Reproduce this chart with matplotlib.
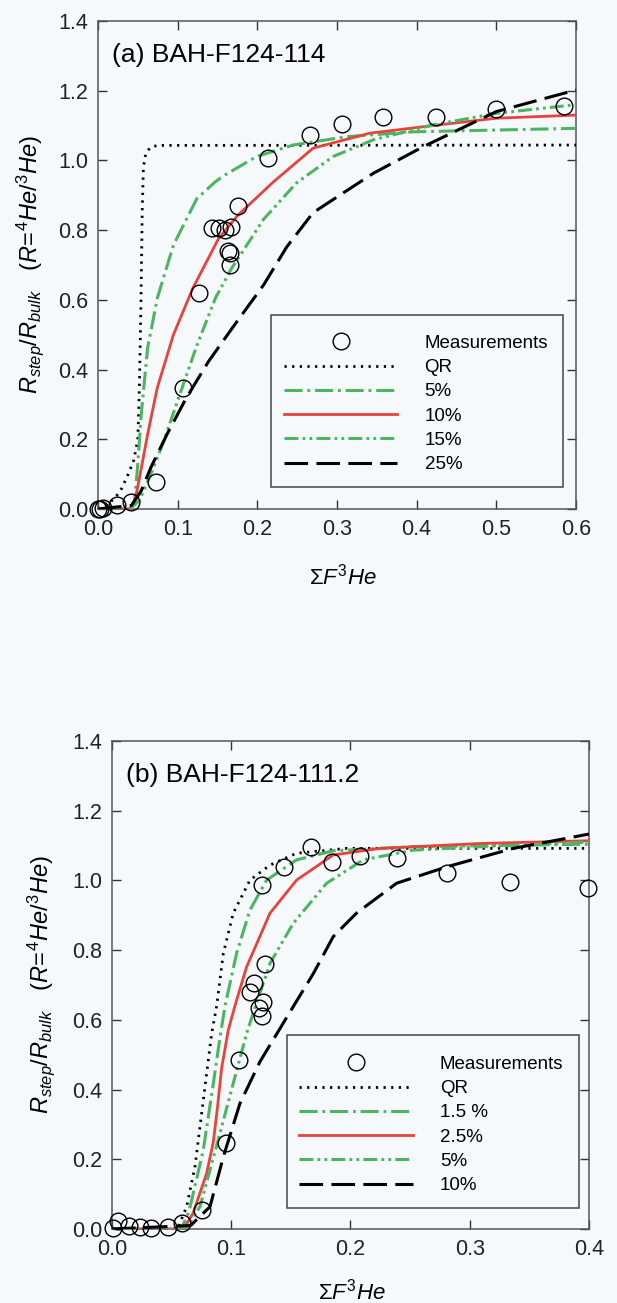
import matplotlib
matplotlib.use("Agg")
import matplotlib.pyplot as plt
from matplotlib.patches import Rectangle

plt.rcParams['font.family'] = ['Liberation Sans', 'DejaVu Sans']
plt.rcParams['mathtext.fontset'] = 'custom'
plt.rcParams['mathtext.it'] = 'Liberation Sans:italic'
plt.rcParams['mathtext.rm'] = 'Liberation Sans'
plt.rcParams['lines.scale_dashes'] = False

# ---- panel (a) BAH-F124-114 ----
a_meas_x = [0.0, 0.003, 0.006, 0.024, 0.042, 0.0725, 0.1069, 0.1263, 0.1433, 0.1514, 0.1595,
            0.1676, 0.1636, 0.1656, 0.1656, 0.1757, 0.214, 0.266, 0.306, 0.358, 0.424, 0.500, 0.585]
a_meas_y = [0.0, 0.0, 0.003, 0.01, 0.019, 0.076, 0.348, 0.619, 0.805, 0.805, 0.80,
            0.81, 0.74, 0.733, 0.70, 0.870, 1.006, 1.073, 1.104, 1.124, 1.125, 1.147, 1.156]

a_qr_x = [0.0, 0.01, 0.022, 0.03, 0.038, 0.045, 0.050, 0.052, 0.054, 0.0555, 0.057, 0.060, 0.066, 0.075, 0.6]
a_qr_y = [0.0, 0.01, 0.033, 0.06, 0.10, 0.14, 0.2, 0.35, 0.6, 0.85, 0.98, 1.02, 1.038, 1.043, 1.044]

a_5_x = [0.0, 0.04, 0.046, 0.050, 0.0543, 0.0623, 0.0745, 0.0947, 0.124, 0.147, 0.157, 0.199, 0.245, 0.312, 0.396, 0.6]
a_5_y = [0.0, 0.0, 0.024, 0.129, 0.271, 0.462, 0.605, 0.757, 0.89, 0.938, 0.955, 1.011, 1.044, 1.068, 1.082, 1.092]

a_10_x = [0.0, 0.04, 0.046, 0.0522, 0.0623, 0.0745, 0.0947, 0.119, 0.1514, 0.1757, 0.22, 0.270, 0.341, 0.417, 0.5, 0.6]
a_10_y = [0.0, 0.0, 0.019, 0.09, 0.214, 0.348, 0.5, 0.633, 0.776, 0.843, 0.938, 1.035, 1.078, 1.099, 1.121, 1.130]

a_15_x = [0.0, 0.04, 0.052, 0.0664, 0.0826, 0.1028, 0.123, 0.1474, 0.1676, 0.192, 0.2075, 0.249, 0.295, 0.3456, 0.421, 0.5, 0.6]
a_15_y = [0.0, 0.0, 0.024, 0.10, 0.195, 0.329, 0.462, 0.605, 0.69, 0.775, 0.83, 0.935, 1.011, 1.059, 1.102, 1.135, 1.16]

a_25_x = [0.0, 0.042, 0.0543, 0.0664, 0.0866, 0.111, 0.139, 0.1717, 0.208, 0.237, 0.270, 0.3456, 0.408, 0.5, 0.6]
a_25_y = [0.0, 0.01, 0.052, 0.119, 0.214, 0.319, 0.424, 0.529, 0.643, 0.752, 0.85, 0.963, 1.039, 1.14, 1.202]

a_labels = ['Measurements', 'QR', '5%', '10%', '15%', '25%']

# ---- panel (b) BAH-F124-111.2 ----
b_meas_x = [0.0011, 0.0047, 0.0145, 0.0235, 0.0325, 0.0472, 0.0584, 0.0751, 0.0956, 0.1068, 0.1236, 0.1255,
            0.1264, 0.1157, 0.1191, 0.1283, 0.1255, 0.1443, 0.1666, 0.1847, 0.2080, 0.2387, 0.2807, 0.3338, 0.3994]
b_meas_y = [0.002, 0.024, 0.009, 0.007, 0.002, 0.007, 0.018, 0.0545, 0.248, 0.485, 0.633, 0.611,
            0.652, 0.681, 0.705, 0.759, 0.987, 1.039, 1.095, 1.054, 1.07, 1.063, 1.020, 0.996, 0.977]

b_qr_x = [0.0, 0.055, 0.0626, 0.0696, 0.0766, 0.0836, 0.0878, 0.0934, 0.1017, 0.1157, 0.1325, 0.1548, 0.1968, 0.4]
b_qr_y = [0.0, 0.0, 0.064, 0.179, 0.37, 0.561, 0.64, 0.791, 0.906, 1.001, 1.044, 1.078, 1.092, 1.092]

b_15_x = [0.0, 0.058, 0.0646, 0.0766, 0.085, 0.0906, 0.0948, 0.1045, 0.1157, 0.1297, 0.1548, 0.1855, 0.2526, 0.4]
b_15_y = [0.0, 0.0, 0.05, 0.227, 0.418, 0.55, 0.64, 0.791, 0.915, 1.001, 1.059, 1.085, 1.097, 1.104]

b_25_x = [0.0, 0.06, 0.068, 0.0794, 0.085, 0.0885, 0.0919, 0.0975, 0.1031, 0.1129, 0.1325, 0.1548, 0.1855, 0.2247, 0.3086, 0.4]
b_25_y = [0.0, 0.0, 0.045, 0.16, 0.25, 0.35, 0.46, 0.57, 0.64, 0.752, 0.906, 1.001, 1.073, 1.092, 1.106, 1.114]

b_5_x = [0.0, 0.062, 0.0738, 0.0906, 0.1017, 0.1129, 0.1185, 0.1325, 0.152, 0.18, 0.2107, 0.2527, 0.3226, 0.4]
b_5_y = [0.0, 0.0, 0.064, 0.275, 0.418, 0.561, 0.62, 0.762, 0.877, 0.992, 1.059, 1.087, 1.099, 1.11]

b_10_x = [0.0, 0.066, 0.0822, 0.0934, 0.1073, 0.1241, 0.152, 0.1689, 0.1856, 0.205, 0.2387, 0.2807, 0.3365, 0.4]
b_10_y = [0.0, 0.01, 0.064, 0.207, 0.36, 0.48, 0.638, 0.733, 0.839, 0.906, 0.992, 1.039, 1.092, 1.133]

b_labels = ['Measurements', 'QR', '1.5 %', '2.5%', '5%', '10%']

green = '#4cb562'
red = '#e8433b'
bg = '#f6f9fc'

styles = [
    dict(color='black', lw=2.0, dashes=(1.6, 3.9)),
    dict(color=green, lw=2.2, dashes=(13, 3.5, 2, 3.5)),
    dict(color=red, lw=2.0, linestyle='-'),
    dict(color=green, lw=2.2, dashes=(10, 3, 2, 3, 2, 3)),
    dict(color='black', lw=2.2, dashes=(17, 6)),
]


def draw_panel(ax, meas_x, meas_y, curves, labels, xmax, xstep, title, box, content_at):
    ax.set_facecolor(bg)
    ax.plot(meas_x, meas_y, 'o', ms=12, mfc='none', mec='black', mew=1.0,
            clip_on=False, zorder=5, label=labels[0])
    for (cx, cy), st, lab in zip(curves, styles, labels[1:]):
        ax.plot(cx, cy, label=lab, zorder=3, **st)
    ax.set_xlim(0, xmax)
    ax.set_ylim(0, 1.4)
    ax.set_xticks([round(i * xstep, 2) for i in range(int(round(xmax / xstep)) + 1)])
    ax.set_yticks([0.0, 0.2, 0.4, 0.6, 0.8, 1.0, 1.2, 1.4])
    ax.xaxis.set_major_formatter(plt.FormatStrFormatter('%.1f'))
    ax.yaxis.set_major_formatter(plt.FormatStrFormatter('%.1f'))
    ax.tick_params(direction='in', length=6.5, width=1, top=True, right=True,
                   labelsize=15.5, colors='#333333', labelcolor='#222222', pad=7)
    for sp in ax.spines.values():
        sp.set_color('#555555')
        sp.set_linewidth(1.1)
    ax.text(0.03, 0.93, title, transform=ax.transAxes, fontsize=19, va='center', ha='left')
    ax.set_xlabel(r'$\Sigma F^3He$', fontsize=16)
    ax.set_ylabel(r'$R_{step}/R_{bulk}\ \ \ (R\!=\!^4He/^3He)$', fontsize=17)
    # legend frame drawn as a box, legend entries placed inside it
    ax.add_patch(Rectangle(box[:2], box[2], box[3], transform=ax.transAxes,
                           facecolor=bg, edgecolor='#444444', lw=1.1, zorder=4.5))
    leg = ax.legend(loc='upper left', bbox_to_anchor=content_at, fontsize=13.5,
                    frameon=False, handlelength=6.05, handletextpad=1.45, labelspacing=0.38,
                    borderpad=0, borderaxespad=0, numpoints=1)
    leg.set_zorder(6)
    return leg


fig = plt.figure(figsize=(6.17, 13.03), dpi=100, facecolor=bg)

ax1 = fig.add_axes([0.1588, 0.6094, 0.7747, 0.3745])
draw_panel(ax1, a_meas_x, a_meas_y,
           [(a_qr_x, a_qr_y), (a_5_x, a_5_y), (a_10_x, a_10_y), (a_15_x, a_15_y), (a_25_x, a_25_y)],
           a_labels, 0.6, 0.1, '(a) BAH-F124-114', (0.363, 0.0445, 0.61, 0.353), (0.389, 0.357))
ax1.yaxis.set_label_coords(-0.108, 0.5)
ax1.xaxis.set_label_coords(0.513, -0.112)

ax2 = fig.add_axes([0.1815, 0.0568, 0.773, 0.3745])
draw_panel(ax2, b_meas_x, b_meas_y,
           [(b_qr_x, b_qr_y), (b_15_x, b_15_y), (b_25_x, b_25_y), (b_5_x, b_5_y), (b_10_x, b_10_y)],
           b_labels, 0.4, 0.1, '(b) BAH-F124-111.2', (0.3675, 0.0424, 0.6115, 0.3551), (0.3927, 0.355))
ax2.yaxis.set_label_coords(-0.115, 0.5)
ax2.xaxis.set_label_coords(0.5025, -0.102)

fig.savefig('out.png', dpi=100, facecolor=bg)
